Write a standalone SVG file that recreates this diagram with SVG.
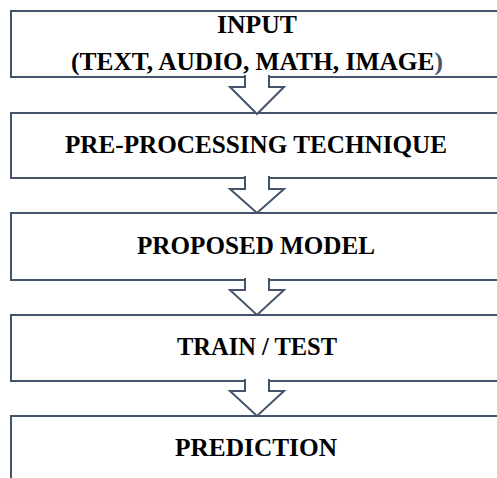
<svg xmlns="http://www.w3.org/2000/svg" width="497" height="478" viewBox="0 0 497 478">
<style>
.box{fill:#ffffff;stroke:#44546A;stroke-width:2}
.arr{fill:#ffffff;stroke:#44546A;stroke-width:2;stroke-linejoin:miter}
.t{font-family:"Liberation Serif","Times New Roman",serif;font-weight:bold;font-size:25px;fill:#000000;text-anchor:middle}
</style>
<rect width="497" height="478" fill="#ffffff"/>
<g id="node-input">
<rect class="box" x="11" y="11" width="510" height="66"/>
<text class="t" x="257" y="33" textLength="80" lengthAdjust="spacingAndGlyphs">INPUT</text>
<text class="t" x="257" y="70" textLength="372" lengthAdjust="spacingAndGlyphs">(TEXT, AUDIO, MATH, IMAGE<tspan fill="#44546A">)</tspan></text>
</g>
<g id="node-preprocessing">
<rect class="box" x="11" y="113" width="510" height="65"/>
<text class="t" x="256" y="153" textLength="382" lengthAdjust="spacingAndGlyphs">PRE-PROCESSING TECHNIQUE</text>
</g>
<g id="node-model">
<rect class="box" x="11" y="213" width="510" height="67"/>
<text class="t" x="256" y="254" textLength="238" lengthAdjust="spacingAndGlyphs">PROPOSED MODEL</text>
</g>
<g id="node-train">
<rect class="box" x="11" y="315" width="510" height="66"/>
<text class="t" x="257" y="355" textLength="160" lengthAdjust="spacingAndGlyphs">TRAIN / TEST</text>
</g>
<g id="node-prediction">
<rect class="box" x="11" y="416" width="510" height="80"/>
<text class="t" x="256" y="456" textLength="162" lengthAdjust="spacingAndGlyphs">PREDICTION</text>
</g>
<g id="connectors">
<path class="arr" d="M245,75 V87 H230 L257,114 L284,87 H269 V75"/>
<path class="arr" d="M245,176 V189 H230 L257,213 L284,189 H269 V176"/>
<path class="arr" d="M245,278 V290 H230 L257,315 L284,290 H269 V278"/>
<path class="arr" d="M245,379 V391 H230 L257,416 L284,391 H269 V379"/>
</g>
</svg>
